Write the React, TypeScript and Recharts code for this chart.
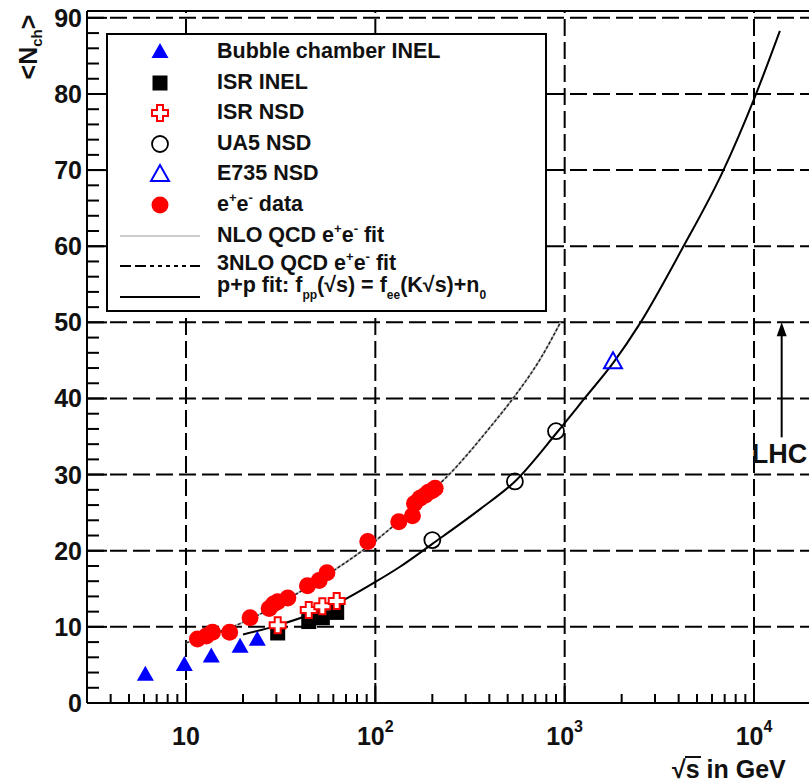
import React from "react";
import {
  ComposedChart,
  Line,
  Scatter,
  XAxis,
  YAxis,
  ReferenceLine,
  Legend,
} from "recharts";

const FONT = '"Liberation Sans", Arial, Helvetica, sans-serif';
const BLUE = "#0000ff";
const RED = "#ff0000";

// data: sqrt(s) in GeV, <Nch>
const bubbleS = [6.1, 9.8, 13.6, 19.3, 23.8];
const bubbleN = [3.7, 5.0, 6.1, 7.4, 8.3];
const isrS = [30.5, 44.5, 52.5, 62.5];
const isrInelN = [9.2, 10.7, 11.2, 11.9];
const isrNsdN = [10.2, 12.2, 12.7, 13.4];
const ua5S = [200, 546, 900];
const ua5N = [21.4, 29.1, 35.7];
const e735S = [1800];
const e735N = [44.9];
const eeS = [11.5, 12.8, 13.8, 17, 21.8, 27.5, 29, 30.5, 34.5, 43.8, 50.5, 55.5, 91.2, 133, 157, 161, 172, 183, 191, 200, 207];
const eeN = [8.4, 8.8, 9.3, 9.3, 11.2, 12.4, 13.0, 13.3, 13.8, 15.4, 16.1, 17.1, 21.2, 23.8, 24.6, 26.2, 26.9, 27.3, 27.7, 27.9, 28.2];

// fit curves
const eeFitS = [10, 20, 50, 100, 200, 245, 406, 537, 748, 950];
const eeFitN = [7.9, 10.6, 16.1, 21.3, 27.9, 30, 36.3, 40.1, 45.3, 50];
const ppFitS = [20, 30.5, 63, 100, 135, 200, 359, 546, 908, 1292, 1820, 2460, 4160, 6780, 10100, 13700];
const ppFitN = [9.0, 10.2, 13.1, 15.9, 17.9, 20.9, 25.5, 29.1, 35.5, 40.2, 44.8, 49.6, 59.6, 69.6, 79.6, 88.3];

// LHC marker
const lhcS = 14000;
const lhcN = [34.9, 50];

// axes
const xDomain = [3, 20000];
const yDomain = [0, 90.9];
const xTicks = [4, 5, 6, 7, 8, 9, 10, 20, 30, 40, 50, 60, 70, 80, 90, 100, 200, 300, 400, 500, 600, 700, 800, 900, 1000, 2000, 3000, 4000, 5000, 6000, 7000, 8000, 9000, 10000];
const xMajor = [10, 100, 1000, 10000];
const yTicks = [0, 2, 4, 6, 8, 10, 12, 14, 16, 18, 20, 22, 24, 26, 28, 30, 32, 34, 36, 38, 40, 42, 44, 46, 48, 50, 52, 54, 56, 58, 60, 62, 64, 66, 68, 70, 72, 74, 76, 78, 80, 82, 84, 86, 88, 90];
const yMajor = [0, 10, 20, 30, 40, 50, 60, 70, 80, 90];
const yGrid = [10, 20, 30, 40, 50, 60, 70, 80, 90];

const zip = (xs: number[], ys: number[]) => xs.map((x, i) => ({ x, y: ys[i] }));

// marker shapes
const FilledTri = ({ cx, cy }: any) => (
  <polygon points={`${cx},${cy - 9} ${cx - 8.5},${cy + 6} ${cx + 8.5},${cy + 6}`} fill={BLUE} />
);
const OpenTri = ({ cx, cy }: any) => (
  <polygon points={`${cx},${cy - 9} ${cx - 9},${cy + 7} ${cx + 9},${cy + 7}`} fill="none" stroke={BLUE} strokeWidth={2} />
);
const Square = ({ cx, cy }: any) => <rect x={cx - 7.5} y={cy - 7.5} width={15} height={15} fill="#000" />;
const Cross = ({ cx, cy }: any) => {
  const a = 3, b = 8;
  const pts = [
    [-a, -b], [a, -b], [a, -a], [b, -a], [b, a], [a, a], [a, b], [-a, b], [-a, a], [-b, a], [-b, -a], [-a, -a],
  ].map(([dx, dy]) => `${cx + dx},${cy + dy}`).join(" ");
  return <polygon points={pts} fill="#fff" stroke={RED} strokeWidth={2} />;
};
const OpenCircle = ({ cx, cy }: any) => <circle cx={cx} cy={cy} r={8} fill="none" stroke="#000" strokeWidth={1.8} />;
const RedDot = ({ cx, cy }: any) => <circle cx={cx} cy={cy} r={8.5} fill={RED} />;

const XTick = ({ x, y, payload }: any) => {
  const v = payload.value;
  const major = xMajor.includes(v);
  const exp = Math.round(Math.log10(v));
  return (
    <g>
      <line x1={x} x2={x} y1={y} y2={y - (major ? 20 : 9)} stroke="#000" strokeWidth={2} />
      {major && (
        <text x={x} y={y + 42} textAnchor="middle" fontFamily={FONT} fontWeight="bold" fontSize={25} fill="#111">
          10
          {exp > 1 && (
            <tspan dy={-13} fontSize={16}>
              {exp}
            </tspan>
          )}
        </text>
      )}
    </g>
  );
};

const YTick = ({ x, y, payload }: any) => {
  const v = payload.value;
  const major = yMajor.includes(v);
  return (
    <g>
      <line x1={x} x2={x + (major ? 20 : 12)} y1={y} y2={y} stroke="#000" strokeWidth={2} />
      {major && (
        <text x={x - 5} y={y + 9} textAnchor="end" fontFamily={FONT} fontWeight="bold" fontSize={25} fill="#111">
          {v}
        </text>
      )}
    </g>
  );
};

const LhcArrow = (p: any) => {
  const x = p.x1;
  const top = Math.min(p.y1, p.y2);
  const bottom = Math.max(p.y1, p.y2);
  return (
    <g>
      <line x1={x} x2={x} y1={bottom} y2={top + 12} stroke="#000" strokeWidth={2} />
      <polygon points={`${x},${top} ${x - 5},${top + 14} ${x + 5},${top + 14}`} fill="#000" />
      <text x={x - 30} y={bottom + 26} fontFamily={FONT} fontWeight="bold" fontSize={27} fill="#111">
        LHC
      </text>
    </g>
  );
};

const Sup = ({ children }: any) => (
  <span style={{ fontSize: 13, position: "relative", top: -9 }}>{children}</span>
);
const Sub = ({ children }: any) => (
  <span style={{ fontSize: 12, position: "relative", top: 7 }}>{children}</span>
);

const legendItems = [
  { sym: "tri", text: <>Bubble chamber INEL</> },
  { sym: "sq", text: <>ISR INEL</> },
  { sym: "cross", text: <>ISR NSD</> },
  { sym: "circ", text: <>UA5 NSD</> },
  { sym: "otri", text: <>E735 NSD</> },
  { sym: "dot", text: <>e<Sup>+</Sup>e<Sup>-</Sup> data</> },
  { sym: "nlo", text: <>NLO QCD e<Sup>+</Sup>e<Sup>-</Sup> fit</> },
  { sym: "nnlo", text: <>3NLO QCD e<Sup>+</Sup>e<Sup>-</Sup> fit</> },
  {
    sym: "pp",
    text: (
      <>
        p+p fit: f<Sub>pp</Sub>(√s) = f<Sub>ee</Sub>(K√s)+n<Sub>0</Sub>
      </>
    ),
  },
];

// vertical nudge of each legend text inside its row
const textTop: Record<string, number> = { nnlo: 1, pp: -8 };

const LegendSymbol = ({ sym }: { sym: string }) => {
  const cx = 52, cy = 15;
  switch (sym) {
    case "tri": return <FilledTri cx={cx} cy={cy} />;
    case "sq": return <Square cx={cx} cy={cy} />;
    case "cross": return <Cross cx={cx} cy={cy} />;
    case "circ": return <OpenCircle cx={cx} cy={cy} />;
    case "otri": return <OpenTri cx={cx} cy={cy} />;
    case "dot": return <RedDot cx={cx} cy={cy} />;
    case "nlo": return <line x1={12} x2={92} y1={cy} y2={cy} stroke="#bbb" strokeWidth={1.5} />;
    case "nnlo": return <line x1={12} x2={92} y1={cy} y2={cy} stroke="#000" strokeWidth={2} strokeDasharray="11 4 11 4 4 4 4 4 4 4 4 4 4 4" />;
    default: return <line x1={12} x2={92} y1={cy} y2={cy} stroke="#000" strokeWidth={2} />;
  }
};

const LegendBox = () => (
  <div
    style={{
      position: "relative",
      width: 441,
      height: 279,
      boxSizing: "border-box",
      border: "2px solid #000",
      background: "#fff",
      fontFamily: FONT,
      fontWeight: "bold",
      fontSize: 21.5,
      color: "#111",
    }}
  >
    {legendItems.map((it, i) => (
      <div key={i} style={{ position: "absolute", left: 0, top: 2 + i * 30.6, height: 30, width: 437 }}>
        <svg width={110} height={30} style={{ position: "absolute", left: 0, top: 0 }}>
          <LegendSymbol sym={it.sym} />
        </svg>
        <div
          style={{
            position: "absolute",
            left: 109,
            top: textTop[it.sym] ?? 3,
            lineHeight: "22px",
            whiteSpace: "nowrap",
          }}
        >
          {it.text}
        </div>
      </div>
    ))}
  </div>
);

const YTitle = () => (
  <text transform="translate(37,47) rotate(-90)" textAnchor="middle" fontFamily={FONT} fontWeight="bold" fontSize={25} fill="#111">
    &lt;N
    <tspan dy={5} fontSize={15}>ch</tspan>
    <tspan dy={-5}>&gt;</tspan>
  </text>
);

const XTitle = () => (
  <g>
    <text x={672} y={778} fontFamily={FONT} fontWeight="bold" fontSize={25} fill="#111">
      √s in GeV
    </text>
    <line x1={685} x2={701} y1={757} y2={757} stroke="#111" strokeWidth={2} />
  </g>
);

export default function App() {
  return (
    <div style={{ position: "absolute", left: 0, top: 0, width: 809, height: 784, overflow: "hidden", background: "#fff" }}>
      <ComposedChart width={815} height={784} margin={{ top: 11, right: 4, bottom: 0, left: 0 }}>
        <XAxis
          dataKey="x"
          type="number"
          scale="log"
          domain={xDomain}
          allowDataOverflow
          ticks={xTicks}
          interval={0}
          tick={<XTick />}
          tickLine={false}
          tickSize={0}
          tickMargin={0}
          height={81}
          axisLine={{ stroke: "#000", strokeWidth: 2 }}
          label={{ content: () => <XTitle /> }}
        />
        <YAxis
          dataKey="y"
          type="number"
          domain={yDomain}
          allowDataOverflow
          ticks={yTicks}
          interval={0}
          tick={<YTick />}
          tickLine={false}
          tickSize={0}
          tickMargin={0}
          width={87}
          axisLine={{ stroke: "#000", strokeWidth: 2 }}
          label={{ content: () => <YTitle /> }}
        />
        {yGrid.map((v) => (
          <ReferenceLine key={"h" + v} y={v} stroke="#000" strokeWidth={2} strokeDasharray="17 6" />
        ))}
        {xMajor.map((v) => (
          <ReferenceLine key={"v" + v} x={v} stroke="#000" strokeWidth={2} strokeDasharray="17 6" />
        ))}
        <ReferenceLine y={yDomain[1]} stroke="#000" strokeWidth={2} />
        <ReferenceLine
          segment={[{ x: lhcS, y: lhcN[0] }, { x: lhcS, y: lhcN[1] }]}
          shape={(p: any) => <LhcArrow {...p} />}
        />

        <Line data={zip(eeFitS, eeFitN)} dataKey="y" type="monotone" stroke="#b8b8b8" strokeWidth={2} dot={false} isAnimationActive={false} />
        <Line data={zip(eeFitS, eeFitN)} dataKey="y" type="monotone" stroke="#222" strokeWidth={1.5} strokeDasharray="3 2" dot={false} isAnimationActive={false} />
        <Line data={zip(ppFitS, ppFitN)} dataKey="y" type="monotone" stroke="#000" strokeWidth={2} dot={false} isAnimationActive={false} />

        <Scatter data={zip(bubbleS, bubbleN)} shape={(p: any) => <FilledTri cx={p.cx} cy={p.cy} />} isAnimationActive={false} />
        <Scatter data={zip(isrS, isrInelN)} shape={(p: any) => <Square cx={p.cx} cy={p.cy} />} isAnimationActive={false} />
        <Scatter data={zip(isrS, isrNsdN)} shape={(p: any) => <Cross cx={p.cx} cy={p.cy} />} isAnimationActive={false} />
        <Scatter data={zip(ua5S, ua5N)} shape={(p: any) => <OpenCircle cx={p.cx} cy={p.cy} />} isAnimationActive={false} />
        <Scatter data={zip(e735S, e735N)} shape={(p: any) => <OpenTri cx={p.cx} cy={p.cy} />} isAnimationActive={false} />
        <Scatter data={zip(eeS, eeN)} shape={(p: any) => <RedDot cx={p.cx} cy={p.cy} />} isAnimationActive={false} />

        <Legend
          layout="vertical"
          align="center"
          verticalAlign="middle"
          wrapperStyle={{ left: 106, top: 33, width: 441, height: 279 }}
          content={() => <LegendBox />}
        />
      </ComposedChart>
    </div>
  );
}
